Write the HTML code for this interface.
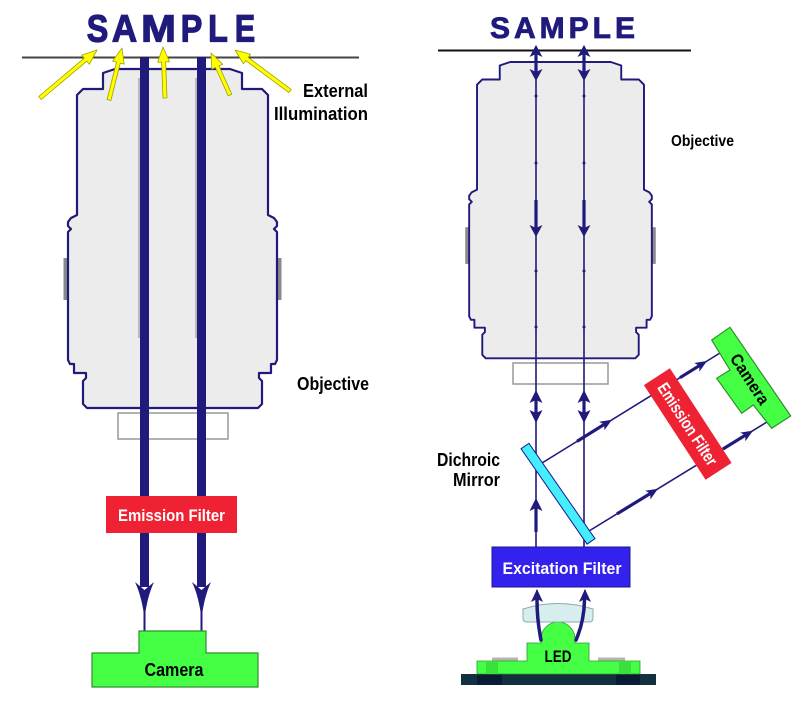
<!DOCTYPE html>
<html><head><meta charset="utf-8"><style>
html,body{margin:0;padding:0;background:#fff;}
svg{display:block;}
text{font-family:"Liberation Sans",Arial,sans-serif;font-weight:bold;}
</style></head><body>
<svg width="800" height="704" viewBox="0 0 800 704" xmlns="http://www.w3.org/2000/svg">
<rect width="800" height="704" fill="#fff"/>
<defs>
<g id="obj">
  <rect x="63.5" y="258" width="4.5" height="42" fill="#8a8a8a"/>
  <rect x="277" y="258" width="4.5" height="42" fill="#8a8a8a"/>
  <path d="M103,89 L103,73 L115,69 L230,69 L242,73 L242,89 L262,89 L268,95 L268,215 L274,218 L277,222 L277,226 L274,229 L277,232 L277,360 L275,364 L271,364 L271,373 L259,373 L259,378 L262,381 L262,404 L258,408 L87,408 L83,404 L83,381 L86,378 L86,373 L74,373 L74,364 L70,364 L68,360 L68,232 L71,229 L68,226 L68,222 L71,218 L77,215 L77,95 L83,89 Z" fill="#ececec" stroke="#201a7c" stroke-width="2.2" stroke-linejoin="round"/>
</g>
</defs>

<!-- ============ LEFT DIAGRAM ============ -->
<g fill="#201a7c" stroke="#201a7c" stroke-width="1.2" font-size="38">
<text transform="translate(97.5,41.5) scale(0.85,1)" text-anchor="middle">S</text>
<text transform="translate(124.5,41.5) scale(0.92,1)" text-anchor="middle">A</text>
<text transform="translate(158.5,41.5) scale(1.1,1)" text-anchor="middle">M</text>
<text transform="translate(191.5,41.5) scale(0.85,1)" text-anchor="middle">P</text>
<text transform="translate(218,41.5) scale(0.85,1)" text-anchor="middle">L</text>
<text transform="translate(245,41.5) scale(0.8,1)" text-anchor="middle">E</text>
</g>
<line x1="22" y1="57.5" x2="359" y2="57.5" stroke="#444" stroke-width="2"/>

<use href="#obj"/>
<rect x="118" y="413" width="110" height="26" fill="#fff" stroke="#999" stroke-width="1.5"/>

<!-- beams -->
<line x1="139" y1="78" x2="139" y2="338" stroke="#aaa" stroke-width="1.5"/>
<line x1="196" y1="78" x2="196" y2="338" stroke="#aaa" stroke-width="1.5"/>
<rect x="140" y="57" width="9" height="530" fill="#201a7c"/>
<rect x="197" y="57" width="9" height="530" fill="#201a7c"/>
<path d="M135,582 L144.5,590 L154,582 Q147,597 144.5,619 Q142,597 135,582 Z" fill="#201a7c"/>
<path d="M192,582 L201.5,590 L211,582 Q204,597 201.5,619 Q199,597 192,582 Z" fill="#201a7c"/>
<line x1="144.5" y1="612" x2="144.5" y2="632" stroke="#201a7c" stroke-width="2"/>
<line x1="201.5" y1="612" x2="201.5" y2="632" stroke="#201a7c" stroke-width="2"/>

<!-- emission filter left -->
<rect x="106" y="496" width="131" height="37" fill="#ee2233"/>
<text x="171.5" y="521" font-size="17" fill="#fff" text-anchor="middle" textLength="107" lengthAdjust="spacingAndGlyphs">Emission Filter</text>

<!-- camera left -->
<polygon points="139,631 206,631 206,653 258,653 258,687 92,687 92,653 139,653" fill="#44ff44" stroke="#2f8f2f" stroke-width="1.2"/>
<text x="174" y="676" font-size="18" fill="#000" text-anchor="middle" textLength="59" lengthAdjust="spacingAndGlyphs">Camera</text>

<!-- yellow arrows -->
<g fill="#ffff00" stroke="#a0a000" stroke-width="0.8" stroke-linejoin="round">
<polygon points="41.3,99.5 86.8,61.2 89.4,64.3 97,50 81.6,55.1 84.2,58.2 38.7,96.5"/>
<polygon points="110.9,100.5 120.3,63.1 124.2,64.1 122,48 112.6,61.1 116.5,62.1 107.1,99.5"/>
<polygon points="167,97.9 165.6,61.9 169.6,61.8 163,47 157.6,62.2 161.6,62.1 163,98.1"/>
<polygon points="231.8,94.2 219,65.9 222.7,64.2 211,53 211.7,69.2 215.4,67.5 228.2,95.8"/>
<polygon points="291.2,89.4 248.2,57.4 250.6,54.2 235,50 243.4,63.8 245.8,60.6 288.8,92.6"/>
</g>

<text x="303" y="97" font-size="18" fill="#000" textLength="65" lengthAdjust="spacingAndGlyphs">External</text>
<text x="274" y="120" font-size="18" fill="#000" textLength="94" lengthAdjust="spacingAndGlyphs">Illumination</text>
<text x="297" y="390" font-size="18" fill="#000" textLength="72" lengthAdjust="spacingAndGlyphs">Objective</text>

<!-- ============ RIGHT DIAGRAM ============ -->
<text x="490" y="38" font-size="30" fill="#201a7c" stroke="#201a7c" stroke-width="0.8" textLength="145" lengthAdjust="spacing">SAMPLE</text>
<line x1="438" y1="50.5" x2="691" y2="50.5" stroke="#111" stroke-width="2"/>

<use href="#obj" transform="translate(560.5,62) scale(0.874) translate(-172.5,-69)"/>
<rect x="513" y="363" width="95" height="21" fill="#fff" stroke="#999" stroke-width="1.5"/>

<!-- rays reflected -->
<g stroke="#201a7c" fill="none">
<line x1="542" y1="463" x2="720" y2="353" stroke-width="1.6"/>
<line x1="589" y1="531" x2="767" y2="422" stroke-width="1.6"/>
<line x1="577" y1="441.4" x2="604.3" y2="424.4" stroke-width="3.2"/>
<line x1="680" y1="377.7" x2="699.3" y2="365.7" stroke-width="3.2"/>
<line x1="617" y1="513.9" x2="650.3" y2="493.5" stroke-width="3.2"/>
<line x1="723" y1="449" x2="745.3" y2="435.3" stroke-width="3.2"/>
</g>
<g fill="#201a7c">
<polygon points="612,419.7 604.4,430.3 604.3,424.4 599.2,421.7"/>
<polygon points="707,361 699.4,371.6 699.3,365.7 694.2,363"/>
<polygon points="658,488.8 650.4,499.4 650.3,493.5 645.2,490.8"/>
<polygon points="753,430.6 745.4,441.2 745.3,435.3 740.2,432.6"/>
</g>

<!-- vertical beams -->
<g stroke="#201a7c">
<line x1="536" y1="46" x2="536" y2="547" stroke-width="1.6"/>
<line x1="584" y1="46" x2="584" y2="547" stroke-width="1.6"/>
<line x1="536" y1="54" x2="536" y2="72" stroke-width="3.2"/>
<line x1="584" y1="54" x2="584" y2="72" stroke-width="3.2"/>
<line x1="536" y1="200" x2="536" y2="229" stroke-width="3.2"/>
<line x1="584" y1="200" x2="584" y2="229" stroke-width="3.2"/>
<line x1="536" y1="400" x2="536" y2="414" stroke-width="3.2"/>
<line x1="584" y1="400" x2="584" y2="414" stroke-width="3.2"/>
<line x1="536" y1="507" x2="536" y2="532" stroke-width="3.2"/>
</g>
<g fill="#201a7c">
<polygon points="536,45 542.5,57 536,54 529.5,57"/>
<polygon points="584,45 590.5,57 584,54 577.5,57"/>
<polygon points="536,81 542.5,69 536,72 529.5,69"/>
<polygon points="584,81 590.5,69 584,72 577.5,69"/>
<polygon points="536,237 542.5,225 536,228 529.5,225"/>
<polygon points="584,237 590.5,225 584,228 577.5,225"/>
<polygon points="536,390 542.5,403 536,400 529.5,403"/>
<polygon points="584,390 590.5,403 584,400 577.5,403"/>
<polygon points="536,423 542.5,410 536,413 529.5,410"/>
<polygon points="584,423 590.5,410 584,413 577.5,410"/>
<polygon points="536,498 542.5,511 536,508 529.5,511"/>
<circle cx="536" cy="96" r="1.5"/><circle cx="584" cy="96" r="1.5"/>
<circle cx="536" cy="163" r="1.5"/><circle cx="584" cy="163" r="1.5"/>
<circle cx="536" cy="271" r="1.5"/><circle cx="584" cy="271" r="1.5"/>
<circle cx="536" cy="327" r="1.5"/><circle cx="584" cy="327" r="1.5"/>
</g>

<!-- dichroic mirror -->
<g transform="translate(558,493.7) rotate(55.3)">
<rect x="-58" y="-4.8" width="116" height="9.6" fill="#44eeff" stroke="#1a1a8a" stroke-width="1"/>
</g>

<!-- emission filter right -->
<g transform="translate(687.75,424) rotate(56.9)">
<rect x="-56.5" y="-15.5" width="113" height="31" fill="#ee2233"/>
<text x="0" y="6" font-size="17" fill="#fff" text-anchor="middle" textLength="95" lengthAdjust="spacingAndGlyphs">Emission Filter</text>
</g>

<!-- camera right -->
<polygon points="711.7,340 730,327.3 790.7,416 771.7,428.3 753.3,405 741.7,413.3 716.7,378.3 730,370" fill="#44ff44" stroke="#2f8f2f" stroke-width="1.2"/>
<g transform="translate(750,379) rotate(56.9)">
<text x="0" y="6" font-size="17" fill="#000" text-anchor="middle" textLength="57" lengthAdjust="spacingAndGlyphs">Camera</text>
</g>

<!-- excitation filter -->
<rect x="492" y="547" width="138" height="40" fill="#3322ee" stroke="#1a1a88" stroke-width="1"/>
<text x="562" y="574" font-size="17" fill="#fff" text-anchor="middle" textLength="119" lengthAdjust="spacingAndGlyphs">Excitation Filter</text>

<!-- LED assembly -->
<rect x="461" y="674" width="195" height="11" fill="#12303f"/>
<rect x="477" y="674" width="25" height="11" fill="#0b1a35"/>
<rect x="616" y="674" width="24" height="11" fill="#0b1a35"/>
<rect x="492" y="657.5" width="26" height="4" fill="#b5b5b5"/>
<rect x="598" y="657.5" width="27" height="4" fill="#b5b5b5"/>
<path d="M477,661 L527,661 L527,643 L541,643 L541,639 A17,17 0 0 1 575,639 L575,643 L589,643 L589,661 L640,661 L640,674 L477,674 Z" fill="#44ff44" stroke="#2f9a2f" stroke-width="0.8"/>
<rect x="486" y="661" width="12" height="13" fill="#3ae03a"/>
<rect x="619" y="661" width="12" height="13" fill="#3ae03a"/>
<text x="558" y="662" font-size="17" fill="#000" text-anchor="middle" textLength="27" lengthAdjust="spacingAndGlyphs">LED</text>

<!-- lens -->
<path d="M523,609 Q558,598 593,609 L593,618 Q593,622 589,622 L527,622 Q523,622 523,618 Z" fill="#d6eeee" stroke="#90aaaa" stroke-width="1"/>

<!-- LED arrows -->
<g stroke="#201a7c" fill="none" stroke-width="3.5" stroke-linecap="round">
<path d="M541,640 Q537,620 537,600"/>
<path d="M576,640 Q584,622 584.5,600"/>
</g>
<g stroke="#201a7c" stroke-width="1.5">
<line x1="537" y1="590" x2="537" y2="600"/>
<line x1="585" y1="590" x2="585" y2="600"/>
</g>
<g fill="#201a7c">
<polygon points="537,589 543,602 537,599 531,602"/>
<polygon points="585,589 591,602 585,599 579,602"/>
</g>

<text x="671" y="146" font-size="16" fill="#000" textLength="63" lengthAdjust="spacingAndGlyphs">Objective</text>
<text x="437" y="466" font-size="18" fill="#000" textLength="63" lengthAdjust="spacingAndGlyphs">Dichroic</text>
<text x="453" y="486" font-size="18" fill="#000" textLength="47" lengthAdjust="spacingAndGlyphs">Mirror</text>
</svg>
</body></html>
